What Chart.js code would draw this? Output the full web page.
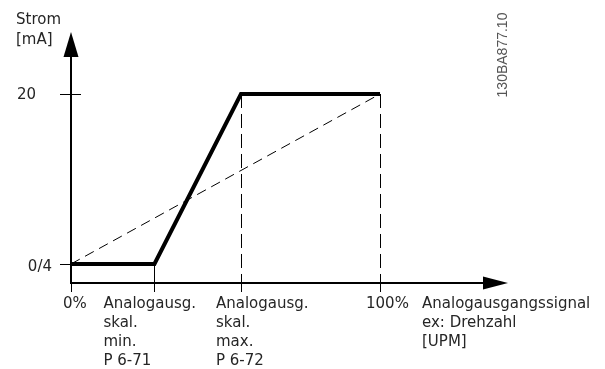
<!DOCTYPE html>
<html>
<head>
<meta charset="utf-8">
<script src="https://cdn.jsdelivr.net/npm/chart.js@4"></script>
<style>
  html, body { margin: 0; padding: 0; background: #fff; }
  #wrap { width: 605px; height: 369px; position: relative; }
</style>
</head>
<body>
<div id="wrap"><canvas id="chart"></canvas></div>
<script>
// chart data
var xTicks = [0, 27, 55, 100];
var xTickLabels = [["0%"], ["Analogausg.", "skal.", "min.", "P 6-71"], ["Analogausg.", "skal.", "max.", "P 6-72"], ["100%"]];
var yTicks = [4, 20];
var yTickLabels = ["0/4", "20"];
var signalX = [0, 27, 55, 100];
var signalY = [4, 4, 20, 20];
var linearX = [0, 100];
var linearY = [4, 20];
var guideX = [55, 100];
var yTitle = ["Strom", "[mA]"];
var xTitle = ["Analogausgangssignal", "ex: Drehzahl", "[UPM]"];
var drawingId = "130BA877.10";

function toPoints(xs, ys) {
    return xs.map(function (x, i) { return {x: x, y: ys[i]}; });
}

var FONT = "15px 'DejaVu Sans', Verdana, sans-serif";
var TEXT = "#262626";

// Axes, arrows, ticks, guides, labels
var diagram = {
    id: 'diagram',
    beforeDatasetsDraw: function (chart) {
        var c = chart.ctx, xs = chart.scales.x, ys = chart.scales.y, a = chart.chartArea;
        // vertical dashed guides
        c.save();
        c.strokeStyle = "#000";
        c.lineWidth = 1;
        c.setLineDash([14, 6]);
        guideX.forEach(function (v) {
            var px = Math.round(xs.getPixelForValue(v)) + 0.5;
            c.beginPath(); c.moveTo(px, ys.getPixelForValue(20)); c.lineTo(px, a.bottom + 9); c.stroke();
        });
        c.restore();
    },
    afterDatasetsDraw: function (chart) {
        var c = chart.ctx, xs = chart.scales.x, ys = chart.scales.y, a = chart.chartArea;
        var x0 = xs.getPixelForValue(0), yb = a.bottom;
        c.save();
        c.strokeStyle = "#000";
        c.fillStyle = "#000";
        // y axis + arrow
        c.lineWidth = 2;
        c.beginPath(); c.moveTo(x0, yb + 1); c.lineTo(x0, a.top + 20); c.stroke();
        c.beginPath(); c.moveTo(x0, a.top); c.lineTo(x0 - 7.5, a.top + 25); c.lineTo(x0 + 7.5, a.top + 25); c.closePath(); c.fill();
        // x axis + arrow
        c.beginPath(); c.moveTo(x0, yb); c.lineTo(a.right - 20, yb); c.stroke();
        c.beginPath(); c.moveTo(a.right, yb); c.lineTo(a.right - 25, yb - 6.5); c.lineTo(a.right - 25, yb + 6.5); c.closePath(); c.fill();

        c.lineWidth = 1;
        // y ticks
        yTicks.forEach(function (v, i) {
            var py = Math.round(ys.getPixelForValue(v)) + 0.5;
            c.beginPath(); c.moveTo(x0 - 11, py); c.lineTo(i == yTicks.length - 1 ? x0 + 10 : x0, py); c.stroke();
        });
        // x ticks
        xTicks.forEach(function (v, i) {
            var px = Math.round(xs.getPixelForValue(v)) + 0.5;
            var top = yb;
            if (i == 1) top = ys.getPixelForValue(signalY[1]);
            c.beginPath(); c.moveTo(px, top); c.lineTo(px, yb + 9); c.stroke();
        });

        // texts
        c.font = FONT;
        c.fillStyle = TEXT;
        c.textBaseline = "alphabetic";
        c.textAlign = "left";
        c.fillText(yTitle[0], 16, 24);
        c.fillText(yTitle[1], 16, 43.5);
        c.textAlign = "right";
        c.textBaseline = "middle";
        yTickLabels.forEach(function (t, i) {
            var py = ys.getPixelForValue(yTicks[i]);
            c.fillText(t, i == 0 ? x0 - 19 : x0 - 35, py + (i == 0 ? 3 : 1));
        });
        c.textAlign = "left";
        c.textBaseline = "alphabetic";
        var offs = [-8, -51, -25, -14];
        xTickLabels.forEach(function (lines, i) {
            var px = xs.getPixelForValue(xTicks[i]) + offs[i];
            lines.forEach(function (t, j) { c.fillText(t, px, yb + 24.5 + j * 19.2); });
        });
        xTitle.forEach(function (t, j) { c.fillText(t, a.right - 86, yb + 24.5 + j * 19.2); });

        // drawing id
        c.save();
        c.translate(507, 55);
        c.rotate(-Math.PI / 2);
        c.font = "14px 'Liberation Sans', Arial, sans-serif";
        c.fillStyle = "#555";
        c.textAlign = "center";
        c.textBaseline = "alphabetic";
        c.fillText(drawingId, 0, 0);
        c.restore();
        c.restore();
    }
};

var ctx = document.getElementById('chart').getContext('2d');
var myChart = new Chart(ctx, {
    type: 'scatter',
    data: {
        datasets: [{
            data: toPoints(signalX, signalY),
            showLine: true,
            borderColor: "#000",
            borderWidth: 4,
            pointRadius: 0,
            borderJoinStyle: 'miter'
        }, {
            data: toPoints(linearX, linearY),
            showLine: true,
            borderColor: "#000",
            borderWidth: 1,
            borderDash: [10, 6],
            pointRadius: 0
        }]
    },
    options: {
        responsive: true,
        maintainAspectRatio: false,
        animation: false,
        layout: {padding: {left: 71, right: 97, top: 32, bottom: 86}},
        plugins: {legend: {display: false}, tooltip: {enabled: false}},
        scales: {
            x: {type: 'linear', display: false, min: 0, max: 141.42},
            y: {type: 'linear', display: false, min: 2.212, max: 25.835}
        }
    },
    plugins: [diagram]
});
</script>
</body>
</html>
